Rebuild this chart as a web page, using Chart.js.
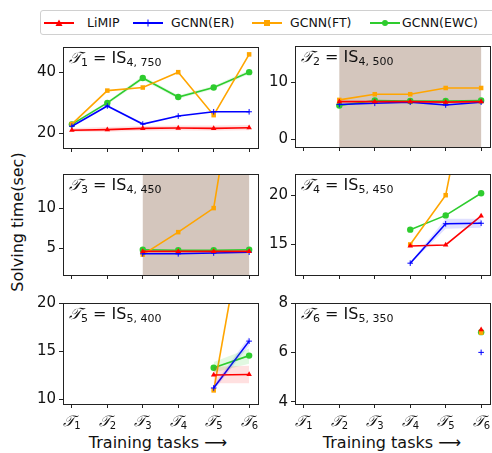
<!DOCTYPE html>
<html>
<head>
<meta charset="utf-8">
<script src="https://cdn.jsdelivr.net/npm/chart.js@4.4.1/dist/chart.umd.min.js"></script>
<style>
  body { margin: 0; background: #fff; font-family: "DejaVu Sans", sans-serif; }
  #page { position: relative; width: 492px; height: 453px; overflow: hidden; }
  .panel { position: absolute; }
  #legend { position: absolute; left: 40px; top: 10px; width: 470px; height: 23px; border: 1px solid #d0d0d0; border-radius: 3px; font-size: 12.5px; color: #111; }
  .item { position: absolute; top: 4px; height: 16px; }
  .line { position: absolute; top: 7px; width: 30px; height: 2px; }
  .label { position: absolute; top: 0; white-space: nowrap; }
  #ylabel { position: absolute; left: 17px; top: 222px; transform: translate(-50%, -50%) rotate(-90deg); font-size: 16px; white-space: nowrap; color: #111; }
  .xlabel { position: absolute; top: 433px; transform: translateX(-50%); font-size: 16px; white-space: nowrap; color: #111; }
</style>
</head>
<body>
<div id="page">
  <div id="legend"></div>
  <div id="ylabel">Solving time(sec)</div>
  <div class="xlabel" style="left:158px">Training tasks ⟶</div>
  <div class="xlabel" style="left:392px">Training tasks ⟶</div>
</div>
<script>
// series names + colours
const seriesNames = ['LiMIP', 'GCNN(ER)', 'GCNN(FT)', 'GCNN(EWC)'];
const seriesColors = ['#ff0000', '#0000ff', '#ffa500', '#2ecc2e'];
const seriesMarkers = ['triangle', 'cross', 'rect', 'circle'];

const tasks = [1, 2, 3, 4, 5, 6];

// panel 1 : T1 = IS_{4,750}, evaluated after every task
const p1LiMIP = [21.1, 21.3, 21.7, 21.8, 21.7, 21.9];
const p1ER    = [22.4, 29.0, 23.1, 25.7, 27.1, 27.1];
const p1FT    = [23.1, 34.0, 35.0, 40.0, 26.0, 45.8];
const p1EWC   = [23.0, 30.0, 38.1, 31.9, 35.0, 40.0];

// panel 2 : T2 = IS_{4,500}
const p2LiMIP = [null, 6.6, 6.6, 6.6, 6.5, 6.6];
const p2ER    = [null, 6.1, 6.3, 6.5, 6.0, 6.5];
const p2FT    = [null, 6.9, 7.9, 7.9, 9.0, 9.0];
const p2EWC   = [null, 5.9, 6.8, 6.7, 6.7, 6.8];

// panel 3 : T3 = IS_{4,450}
const p3LiMIP = [null, null, 4.6, 4.6, 4.6, 4.6];
const p3ER    = [null, null, 4.3, 4.3, 4.4, 4.5];
const p3FT    = [null, null, 4.2, 7.0, 10.0, 37.0];
const p3EWC   = [null, null, 4.8, 4.75, 4.75, 4.8];

// panel 4 : T4 = IS_{5,450}
const p4LiMIP = [null, null, null, 14.85, 14.95, 17.9];
const p4ER    = [null, null, null, 13.1, 17.1, 17.15];
const p4FT    = [null, null, null, 15.0, 20.0, 38.0];
const p4EWC   = [null, null, null, 16.5, 17.95, 20.2];

// panel 5 : T5 = IS_{5,400}
const p5LiMIP = [null, null, null, null, 12.55, 12.6];
const p5ER    = [null, null, null, null, 11.2, 16.05];
const p5FT    = [null, null, null, null, 10.95, 31.5];
const p5EWC   = [null, null, null, null, 13.3, 14.55];

// panel 6 : T6 = IS_{5,350}
const p6LiMIP = [null, null, null, null, null, 6.92];
const p6ER    = [null, null, null, null, null, 6.0];
const p6FT    = [null, null, null, null, null, 6.8];
const p6EWC   = [null, null, null, null, null, 6.82];

// std bands (lower / upper), only where visible
const p1LiMIPlo = [20.5, 20.6, 20.9, 21.0, 20.9, 21.1];
const p1LiMIPhi = [21.8, 22.1, 22.5, 22.6, 22.6, 22.8];
const p1EWClo   = [22.6, 29.5, 37.4, 31.3, 34.4, 39.3];
const p1EWChi   = [23.4, 30.5, 38.8, 32.5, 35.6, 40.7];
const p4ERlo    = [null, null, null, 13.0, 16.6, 16.7];
const p4ERhi    = [null, null, null, 13.2, 17.6, 17.6];
const p5LiMIPlo = [null, null, null, null, 11.7, 11.7];
const p5LiMIPhi = [null, null, null, null, 13.4, 13.5];
const p5EWClo   = [null, null, null, null, 12.8, 13.7];
const p5EWChi   = [null, null, null, null, 13.9, 15.3];
const p5ERlo    = [null, null, null, null, 10.9, 15.6];
const p5ERhi    = [null, null, null, null, 11.5, 16.5];

// y axis ranges + ticks
const yMin = [15.3, -1.4, 1.66, 11.9, 9.54, 3.91];
const yMax = [48.2, 16.4, 14.25, 22.15, 20, 8];
const yTicks = [[20, 40], [0, 10], [5, 10], [15, 20], [10, 15, 20], [4, 6, 8]];

const titleSub = ['4, 750', '4, 500', '4, 450', '5, 450', '5, 400', '5, 350'];

const panels = [
  { left: 63, top: 41, series: [p1LiMIP, p1ER, p1FT, p1EWC],
    bands: [[p1LiMIPlo, p1LiMIPhi, 'rgba(255,0,0,0.12)'], [p1EWClo, p1EWChi, 'rgba(46,204,46,0.12)']] },
  { left: 295, top: 40, series: [p2LiMIP, p2ER, p2FT, p2EWC], span: [2, 6], bands: [] },
  { left: 63, top: 168, series: [p3LiMIP, p3ER, p3FT, p3EWC], span: [3, 6], bands: [] },
  { left: 295, top: 168, series: [p4LiMIP, p4ER, p4FT, p4EWC],
    bands: [[p4ERlo, p4ERhi, 'rgba(0,0,255,0.12)']] },
  { left: 63, top: 297, series: [p5LiMIP, p5ER, p5FT, p5EWC],
    bands: [[p5LiMIPlo, p5LiMIPhi, 'rgba(255,0,0,0.12)'], [p5EWClo, p5EWChi, 'rgba(46,204,46,0.14)'], [p5ERlo, p5ERhi, 'rgba(0,0,255,0.12)']] },
  { left: 295, top: 297, series: [p6LiMIP, p6ER, p6FT, p6EWC], bands: [] }
];

const PW = 195, PH = 107, PADL = 45, PADT = 6, PADR = 6, PADB = 34;

function pts(arr) {
  return arr.map((v, i) => ({ x: tasks[i], y: v })).filter(p => p.y !== null);
}

// frame, shaded span, title and tick labels drawn on top of the library's scales
const decor = {
  id: 'decor',
  beforeDatasetsDraw(chart, args, opts) {
    const a = chart.chartArea, x = chart.scales.x, ctx = chart.ctx;
    if (opts.span) {
      ctx.save();
      ctx.fillStyle = '#d4c6bd';
      const x0 = x.getPixelForValue(opts.span[0]), x1 = x.getPixelForValue(opts.span[1]);
      ctx.fillRect(x0, a.top, x1 - x0, a.bottom - a.top);
      ctx.restore();
    }
  },
  afterDraw(chart, args, opts) {
    const a = chart.chartArea, x = chart.scales.x, ctx = chart.ctx;
    ctx.save();
    ctx.strokeStyle = '#222';
    ctx.lineWidth = 1;
    ctx.strokeRect(Math.round(a.left) + 0.5, Math.round(a.top) + 0.5, Math.round(a.right - a.left), Math.round(a.bottom - a.top));
    // title
    ctx.fillStyle = '#111';
    ctx.textBaseline = 'alphabetic';
    let tx = a.left + 6, ty = a.top + 16;
    ctx.font = 'italic 16px "DejaVu Serif"';
    ctx.fillText('𝒯', tx, ty);
    tx += ctx.measureText('𝒯').width;
    ctx.font = '11px "DejaVu Sans"';
    ctx.fillText(String(opts.idx + 1), tx, ty + 3);
    tx += ctx.measureText(String(opts.idx + 1)).width;
    ctx.font = '16px "DejaVu Sans"';
    ctx.fillText(' = IS', tx, ty);
    tx += ctx.measureText(' = IS').width;
    ctx.font = '11px "DejaVu Sans"';
    ctx.fillText(titleSub[opts.idx], tx, ty + 3);
    // x tick labels on bottom row
    if (opts.bottom) {
      tasks.forEach(t => {
        const px = x.getPixelForValue(t);
        ctx.font = 'italic 15px "DejaVu Serif"';
        const w = ctx.measureText('𝒯').width;
        ctx.fillText('𝒯', px - w / 2 - 3, a.bottom + 22);
        ctx.font = '10px "DejaVu Sans"';
        ctx.fillText(String(t), px + w / 2 - 3, a.bottom + 25);
      });
    }
    ctx.restore();
  }
};

// legend
const legend = document.getElementById('legend');
const legendPos = [[3, 46], [92, 130], [211, 249], [329, 361]];
seriesNames.forEach((name, i) => {
  const it = document.createElement('div');
  it.className = 'item';
  it.style.left = legendPos[i][0] + 'px';
  const ln = document.createElement('div');
  ln.className = 'line';
  ln.style.left = '0px';
  ln.style.background = seriesColors[i];
  const mk = document.createElement('canvas');
  mk.width = 10; mk.height = 10;
  mk.style.position = 'absolute'; mk.style.left = '10px'; mk.style.top = '3px';
  const c = mk.getContext('2d');
  c.fillStyle = seriesColors[i]; c.strokeStyle = seriesColors[i];
  if (i === 0) { c.beginPath(); c.moveTo(5, 1.5); c.lineTo(8.5, 8); c.lineTo(1.5, 8); c.fill(); }
  if (i === 1) { c.fillRect(4.5, 1.5, 1, 7); }
  if (i === 2) { c.fillRect(2, 2, 6, 6); }
  if (i === 3) { c.beginPath(); c.arc(5, 5, 3, 0, 7); c.fill(); }
  const lb = document.createElement('div');
  lb.className = 'label';
  lb.style.left = (legendPos[i][1] - legendPos[i][0]) + 'px';
  lb.textContent = name;
  it.appendChild(ln); it.appendChild(mk); it.appendChild(lb);
  legend.appendChild(it);
});

const page = document.getElementById('page');
panels.forEach((p, idx) => {
  const div = document.createElement('div');
  div.className = 'panel';
  div.style.left = (p.left - PADL) + 'px';
  div.style.top = (p.top - PADT) + 'px';
  div.style.width = (PW + PADL + PADR) + 'px';
  div.style.height = (PH + PADT + PADB) + 'px';
  const cv = document.createElement('canvas');
  div.appendChild(cv);
  page.appendChild(div);

  const datasets = [];
  p.bands.forEach(b => {
    datasets.push({ data: pts(b[0]), borderWidth: 0, pointRadius: 0, fill: false, showLine: true, borderColor: 'transparent' });
    datasets.push({ data: pts(b[1]), borderWidth: 0, pointRadius: 0, fill: '-1', backgroundColor: b[2], showLine: true, borderColor: 'transparent' });
  });
  p.series.forEach((s, i) => {
    datasets.push({
      label: seriesNames[i],
      data: pts(s),
      borderColor: seriesColors[i],
      backgroundColor: seriesColors[i],
      borderWidth: 1.6,
      pointStyle: seriesMarkers[i],
      pointRadius: i === 1 ? 2.8 : 3.2,
      pointBorderWidth: i === 1 ? 1 : 0,
      showLine: true,
      fill: false
    });
  });

  const bottom = idx >= 4;
  new Chart(cv, {
    type: 'scatter',
    data: { datasets },
    plugins: [decor],
    options: {
      responsive: true,
      maintainAspectRatio: false,
      animation: false,
      layout: { padding: { left: 0, top: PADT, right: PADR, bottom: 0 } },
      plugins: {
        legend: { display: false },
        tooltip: { enabled: false },
        decor: { idx, span: p.span, bottom }
      },
      scales: {
        x: {
          type: 'linear', min: 0.75, max: 6.25,
          afterBuildTicks: s => { s.ticks = tasks.map(v => ({ value: v })); },
          afterFit: s => { s.height = PADB; },
          ticks: { display: false },
          grid: { drawOnChartArea: false, drawTicks: true, tickLength: 4, color: '#222' },
          border: { display: false }
        },
        y: {
          min: yMin[idx], max: yMax[idx],
          afterBuildTicks: s => { s.ticks = yTicks[idx].map(v => ({ value: v })); },
          afterFit: s => { s.width = PADL; },
          ticks: { color: '#111', font: { family: 'DejaVu Sans', size: 15 }, padding: 3 },
          grid: { drawOnChartArea: false, drawTicks: true, tickLength: 4, color: '#222' },
          border: { display: false }
        }
      }
    }
  });
});
</script>
</body>
</html>
